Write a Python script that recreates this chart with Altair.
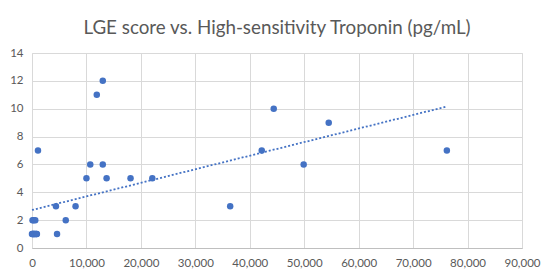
import altair as alt
import pandas as pd

troponin = [0, 200, 400, 700, 900, 100, 300, 500, 800, 100, 300, 600,
            1100, 4400, 4600, 6200, 8000, 10000, 10700, 11900, 13000, 13000,
            13700, 18100, 22100, 36400, 42200, 44400, 49900, 54500, 76200]
lge = [1, 1, 1, 1, 1, 1, 1, 1, 1, 2, 2, 2,
       7, 3, 1, 2, 3, 5, 6, 11, 12, 6,
       5, 5, 5, 3, 7, 10, 6, 9, 7]
x_ticks = list(range(0, 90001, 10000))
y_ticks = list(range(0, 15, 2))

df = pd.DataFrame({"x": troponin, "y": lge})
color = "#4472C4"
font = "Lato"

xscale = alt.Scale(domain=[0, 90000], nice=False, zero=True)
yscale = alt.Scale(domain=[0, 14], nice=False)

xenc = alt.X("x:Q", scale=xscale,
             axis=alt.Axis(values=x_ticks, format=",d", title=None,
                           grid=True, gridColor="#d9d9d9", ticks=False,
                           domain=True, domainColor="#bfbfbf", labelPadding=9,
                           labelOverlap=False, labelFlush=False,
                           labelFontSize=11.5, labelColor="#595959", labelFont=font))
yenc = alt.Y("y:Q", scale=yscale,
             axis=alt.Axis(values=y_ticks, title=None, grid=True,
                           gridColor="#d9d9d9", ticks=False, domain=False,
                           labelOverlap=False, labelFlush=False,
                           labelPadding=9, labelFontSize=11.5, labelColor="#595959",
                           labelFont=font))

base = alt.Chart(df).encode(x=xenc, y=yenc)

points = base.mark_point(filled=True, size=42, color=color, opacity=1)

trend = base.transform_regression("x", "y").mark_line(
    color=color, strokeWidth=1.8, strokeDash=[2, 2]
)

chart = (trend + points).properties(
    width=490, height=195,
    title=alt.TitleParams("LGE score vs. High-sensitivity Troponin (pg/mL)",
                          fontSize=18.8, font=font, fontWeight="normal",
                          color="#595959", anchor="middle", frame="group",
                          offset=9),
    padding={"left": 1, "top": 11, "right": 5, "bottom": 5},
).configure_view(stroke=None).configure(background="white")

chart.save("out.html", embed_options={"renderer": "svg", "actions": False})
